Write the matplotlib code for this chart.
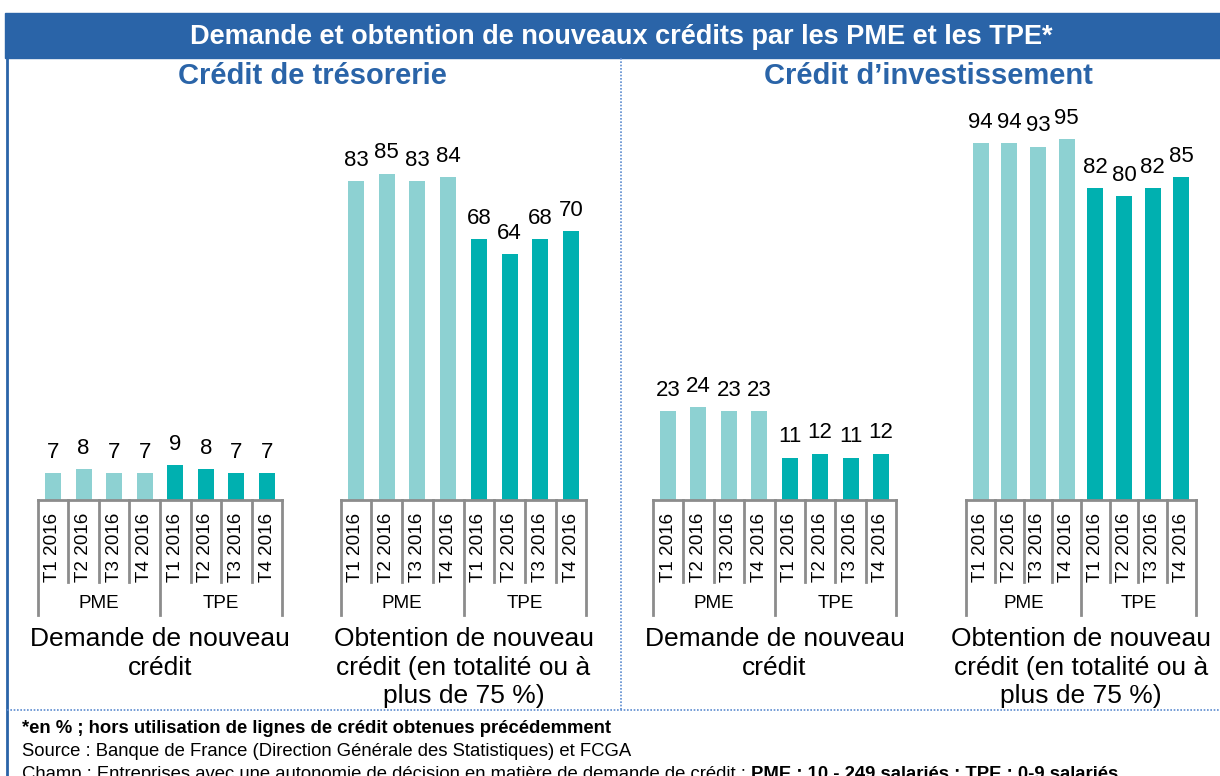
import matplotlib
matplotlib.use("Agg")
import matplotlib.pyplot as plt
from matplotlib.patches import Rectangle
from matplotlib.lines import Line2D

plt.rcParams['font.family'] = ['Liberation Sans', 'DejaVu Sans']

# data
quarters = ["T1 2016", "T2 2016", "T3 2016", "T4 2016"]
sizes = ["PME", "TPE"]
tres_demande = [7, 8, 7, 7, 9, 8, 7, 7]
tres_obtention = [83, 85, 83, 84, 68, 64, 68, 70]
inv_demande = [23, 24, 23, 23, 11, 12, 11, 12]
inv_obtention = [94, 94, 93, 95, 82, 80, 82, 85]
group_demande = "Demande de nouveau\ncrédit"
group_obtention = "Obtention de nouveau\ncrédit (en totalité ou à\nplus de 75 %)"

title = "Demande et obtention de nouveaux crédits par les PME et les TPE*"
sub_left = "Crédit de trésorerie"
sub_right = "Crédit d\u2019investissement"
note1 = "*en % ; hors utilisation de lignes de crédit obtenues précédemment"
note2 = "Source : Banque de France (Direction Générale des Statistiques) et FCGA"
note3a = "Champ : Entreprises avec une autonomie de décision en matière de demande de crédit ; "
note3b = "PME : 10 - 249 salariés ; TPE : 0-9 salariés"

light = "#8dd1d2"
dark = "#00b0b0"
blue = "#2a64a8"
grey = "#8c8c8c"

W, H = 1220, 776
fig = plt.figure(figsize=(W / 100, H / 100), dpi=100)


def px_axes(x0, y0, x1, y1):
    return fig.add_axes([x0 / W, 1 - y1 / H, (x1 - x0) / W, (y1 - y0) / H])


# frame: title bar, border, dotted separators
bg = fig.add_axes([0, 0, 1, 1])
bg.set_xlim(0, W)
bg.set_ylim(H, 0)
bg.axis("off")
bg.add_patch(Rectangle((5, 13), W - 5, 45, color=blue))
bg.add_line(Line2D([6.5, 6.5], [58, H], color=blue, lw=2))
bg.add_line(Line2D([621, 621], [58, 710], color="#5b8bd0", lw=1.2, ls=(0, (1, 1))))
bg.add_line(Line2D([7, W], [710, 710], color="#5b8bd0", lw=1.2, ls=(0, (1, 1))))
bg.text(621, 36.5, title, color="white", fontsize=19.5, fontweight="bold",
        ha="center", va="center")
bg.text(312, 76, sub_left, color=blue, fontsize=21, fontweight="bold", ha="center", va="center")
bg.text(928, 76, sub_right, color=blue, fontsize=21, fontweight="bold", ha="center", va="center")
bg.text(22, 733, note1, fontsize=13.3, fontweight="bold", ha="left", va="baseline")
bg.text(22, 756, note2, fontsize=13.3, ha="left", va="baseline")
t3 = bg.text(22, 779, note3a, fontsize=13.3, ha="left", va="baseline")
bg.annotate(note3b, xy=(1, 0), xycoords=t3, fontsize=13.3, fontweight="bold",
            ha="left", va="bottom")

# (values, left px, right px, px per unit, group label)
panels = [
    (tres_demande, 37.7, 282.3, 3.84, group_demande),
    (tres_obtention, 340.6, 586.4, 3.84, group_obtention),
    (inv_demande, 652.8, 896.2, 3.86, group_demande),
    (inv_obtention, 966.2, 1195.8, 3.80, group_obtention),
]

base = 500
for vals, x0, x1, scale, glabel in panels:
    ax = px_axes(x0, base - 100 * scale, x1, base)
    step = (x1 - x0) / 8
    hpx = 100 * scale
    xs = list(range(len(vals)))
    ax.bar(xs, vals, width=16 / step, color=[light] * 4 + [dark] * 4)
    for x, v in zip(xs, vals):
        ax.annotate(str(v), (x, v), xytext=(0, 11), textcoords="offset points",
                    ha="center", va="baseline", fontsize=16)
    ax.set_xlim(-0.5, 7.5)
    ax.set_ylim(0, 100)
    for s in ["top", "left", "right"]:
        ax.spines[s].set_visible(False)
    ax.spines["bottom"].set_color(grey)
    ax.spines["bottom"].set_linewidth(2)
    ax.set_yticks([])
    ax.set_xticks(xs)
    ax.set_xticklabels(quarters * 2, rotation=90, fontsize=13.6)
    ax.tick_params(axis="x", length=0, pad=9)
    tr = ax.get_xaxis_transform()
    for b in [0.5, 1.5, 2.5, 4.5, 5.5, 6.5]:
        ax.plot([b, b], [0, -82 / hpx], color=grey, lw=2, transform=tr, clip_on=False)
    for b in [-0.5, 3.5, 7.5]:
        ax.plot([b, b], [0, -115 / hpx], color=grey, lw=2, transform=tr, clip_on=False)
    ax.text(1.5, -103 / hpx, sizes[0], transform=tr, ha="center", va="center", fontsize=13.6)
    ax.text(5.5, -103 / hpx, sizes[1], transform=tr, ha="center", va="center", fontsize=13.6)
    ax.text(3.5, -127 / hpx, glabel, transform=tr, ha="center", va="top",
            fontsize=19, linespacing=1.24)

fig.savefig("out.png", dpi=100)
